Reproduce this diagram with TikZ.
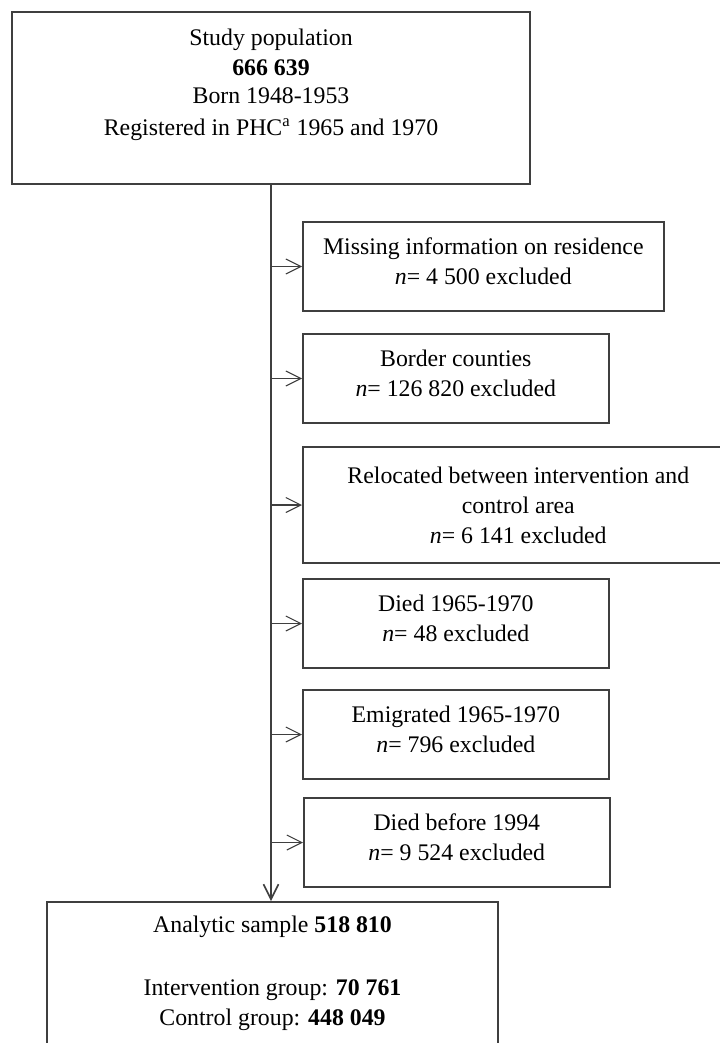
\documentclass[tikz,border=0pt]{standalone}
\usepackage{fontspec}
\setmainfont{Liberation Serif}
\usetikzlibrary{arrows.meta}
\definecolor{linegray}{HTML}{3F3F3F}
\newcommand{\liftup}{\rule[-5pt]{0pt}{0pt}}
\tikzset{
  box/.style={draw=linegray, line width=0.8pt, align=center, inner sep=0pt, font=\fontsize{11.9}{15}\selectfont},
  flow/.style={draw=linegray, line width=0.55pt, -{Straight Barb[length=7.5pt,width=7.5pt]}},
}
\begin{document}
\begin{tikzpicture}[x=0.5pt,y=-0.5pt]
            \useasboundingbox (0,0) rectangle (719,1043);
            \node[box, minimum width=259pt, minimum height=86pt, font=\fontsize{11.9}{14}\selectfont] (pop) at (271,98)
                {Study population\\[1pt]\textbf{666 639}\\Born 1948-1953\\[2pt]Registered in PHC\textsuperscript{a} 1965 and 1970\rule[-16pt]{0pt}{0pt}};
            \node[box, anchor=west, minimum width=180.5pt, minimum height=44.5pt] (miss) at (302,266.5)
                {Missing information on residence\\\textit{n}= 4 500 excluded\liftup};
            \node[box, anchor=west, minimum width=153pt, minimum height=44.5pt] (border) at (302,378.5)
                {Border counties\\\textit{n}= 126 820 excluded\liftup};
            \node[box, anchor=west, minimum width=215.5pt, minimum height=58pt] (reloc) at (302,505)
                {Relocated between intervention and\\control area\\\textit{n}= 6 141 excluded};
            \node[box, anchor=west, minimum width=153pt, minimum height=44.5pt] (died) at (302,623.5)
                {Died 1965-1970\\\textit{n}= 48 excluded\liftup};
            \node[box, anchor=west, minimum width=153pt, minimum height=44.5pt] (emig) at (302,734.5)
                {Emigrated 1965-1970\\\textit{n}= 796 excluded\liftup};
            \node[box, anchor=west, minimum width=153pt, minimum height=44.5pt] (death) at (303,842.5)
                {Died before 1994\\\textit{n}= 9 524 excluded\liftup};
            \node[box, anchor=north, minimum width=225.5pt, inner ysep=7.3pt] (sample) at (272.5,901)
                {Analytic sample \textbf{518 810}\\[16.5pt]Intervention group: \textbf{70 761}\\Control group: \textbf{448 049}\rule[-14pt]{0pt}{0pt}};
            \draw[flow, line width=0.8pt] (pop.south) -- (pop.south |- sample.north);
            \foreach \b in {miss,border,reloc,died,emig,death}
                \draw[flow] (pop.south |- \b.west) -- (\b.west);
        \end{tikzpicture}
\end{document}
